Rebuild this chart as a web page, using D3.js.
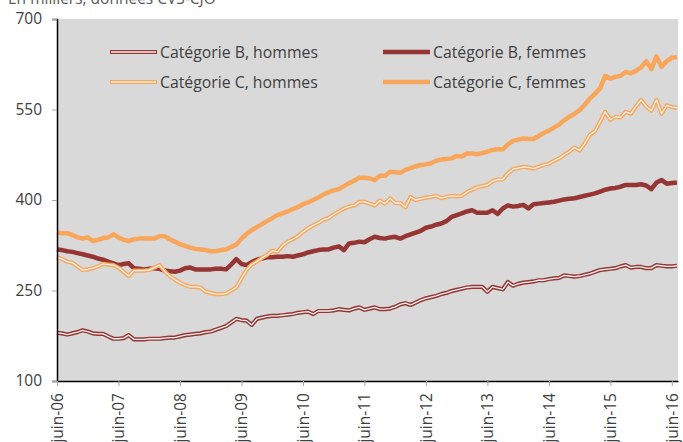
<!DOCTYPE html>
<html>
<head>
<meta charset="utf-8">
<script src="https://cdn.jsdelivr.net/npm/d3@7"></script>
<style>
  body { margin: 0; background: #fff; }
  text { font-family: "Open Sans", sans-serif; fill: #404040; }
</style>
</head>
<body>
<div id="chart"></div>
<script>
var svgWidth = 683;
var svgHeight = 442;

// month index 0 = juin-06, one value per month up to juil-16
var tickLabels = ["juin-06", "juin-07", "juin-08", "juin-09", "juin-10", "juin-11",
  "juin-12", "juin-13", "juin-14", "juin-15", "juin-16"];
var yTicks = [100, 250, 400, 550, 700];

var catBHommes = [180, 179, 177, 179, 181, 184, 182, 179, 178, 178, 174, 170, 170, 171, 176, 169,
  169, 169, 170, 170, 170, 171, 172, 172, 174, 176, 177, 178, 179, 181, 182, 185, 188, 191, 197, 203,
  201, 200, 193, 203, 205, 207, 208, 208, 209, 210, 211, 213, 214, 215, 211, 216, 216, 216, 217, 219,
  218, 217, 220, 222, 218, 220, 222, 219, 219, 220, 223, 227, 229, 226, 230, 234, 237, 239, 241, 244,
  246, 249, 251, 253, 255, 256, 256, 256, 248, 256, 254, 252, 264, 258, 261, 263, 264, 265, 267, 267,
  269, 270, 271, 275, 274, 273, 274, 276, 278, 281, 284, 285, 286, 287, 290, 292, 288, 289, 289, 287,
  287, 292, 291, 290, 290, 291];

var catBFemmes = [318, 317, 315, 314, 312, 310, 308, 306, 303, 301, 298, 295, 292, 294, 295, 287,
  286, 285, 286, 287, 286, 283, 282, 281, 283, 287, 288, 285, 285, 285, 285, 286, 286, 285, 293, 302,
  294, 292, 297, 301, 303, 305, 305, 306, 306, 307, 306, 308, 310, 313, 315, 317, 318, 318, 321, 323,
  317, 328, 329, 331, 330, 335, 339, 337, 336, 338, 339, 336, 340, 343, 346, 349, 354, 356, 359, 361,
  365, 372, 375, 378, 381, 383, 379, 379, 379, 383, 377, 386, 391, 389, 390, 392, 386, 393, 394, 395,
  396, 397, 399, 401, 402, 403, 405, 407, 409, 411, 414, 417, 419, 420, 422, 425, 425, 425, 426, 424,
  418, 429, 433, 427, 428, 429];

var catCHommes = [305, 302, 298, 296, 290, 284, 285, 287, 290, 294, 293, 292, 288, 281, 274, 283,
  283, 283, 284, 288, 292, 282, 274, 268, 263, 259, 256, 256, 255, 248, 246, 244, 244, 245, 250, 255,
  270, 284, 293, 298, 304, 309, 316, 314, 324, 331, 335, 340, 347, 353, 358, 362, 367, 370, 376, 381,
  386, 389, 391, 397, 397, 394, 391, 399, 394, 403, 395, 395, 388, 405, 400, 402, 404, 405, 407, 403,
  405, 407, 406, 407, 413, 417, 421, 423, 425, 431, 434, 434, 444, 451, 453, 455, 454, 452, 455, 458,
  460, 465, 469, 475, 480, 487, 482, 494, 508, 514, 530, 546, 533, 538, 537, 546, 543, 555, 566, 555,
  548, 566, 543, 557, 554, 553];

var catCFemmes = [346, 345, 345, 342, 338, 336, 338, 332, 334, 337, 338, 343, 338, 334, 332, 335,
  336, 336, 336, 336, 340, 340, 335, 331, 327, 324, 321, 319, 318, 317, 315, 315, 317, 318, 322, 326,
  336, 344, 350, 355, 360, 365, 370, 375, 378, 381, 385, 388, 393, 396, 400, 404, 409, 413, 416, 418,
  423, 428, 432, 437, 437, 436, 433, 440, 440, 447, 446, 445, 450, 453, 456, 458, 459, 461, 465, 467,
  468, 469, 473, 472, 477, 477, 476, 478, 480, 483, 484, 484, 492, 498, 500, 502, 501, 501, 506, 511,
  515, 520, 525, 532, 538, 543, 549, 558, 568, 576, 585, 606, 601, 604, 606, 612, 610, 614, 620, 630,
  617, 638, 621, 630, 636, 637];

var seriesNames = ["Catégorie B, hommes", "Catégorie B, femmes", "Catégorie C, hommes", "Catégorie C, femmes"];

var darkRed = "#963634";
var orange = "#f9a65a";

var series = [
  { name: seriesNames[0], values: catBHommes, color: darkRed, double: true },
  { name: seriesNames[1], values: catBFemmes, color: darkRed, double: false },
  { name: seriesNames[2], values: catCHommes, color: orange, double: true },
  { name: seriesNames[3], values: catCFemmes, color: orange, double: false }
];

var svg = d3.select("#chart")
  .append("svg")
  .attr("width", svgWidth)
  .attr("height", svgHeight);

var plot = { left: 57, right: 678, top: 19, bottom: 381 };

var xScale = d3.scaleLinear()
  .domain([0, 121.2])
  .range([plot.left, plot.right]);

var yScale = d3.scaleLinear()
  .domain([100, 700])
  .range([plot.bottom, plot.top]);

// plot background
svg.append("rect")
  .attr("x", plot.left)
  .attr("y", plot.top)
  .attr("width", plot.right - plot.left)
  .attr("height", plot.bottom - plot.top)
  .attr("fill", "#d9d9d9");

// title (cut at the top edge, as in the source)
svg.append("text")
  .attr("x", 8)
  .attr("y", 3.5)
  .style("font-size", "15.5px")
  .style("fill", "#595959")
  .text("En milliers, données CVS-CJO");

var line = d3.line()
  .x((d, i) => xScale(i))
  .y(d => yScale(d));

series.forEach(function(s) {
  if (s.double) {
    svg.append("path")
      .attr("d", line(s.values))
      .attr("fill", "none")
      .attr("stroke", s.color)
      .attr("stroke-width", 4.2)
      .attr("stroke-linejoin", "round");
    svg.append("path")
      .attr("d", line(s.values))
      .attr("fill", "none")
      .attr("stroke", "#f4f1ef")
      .attr("stroke-width", 1.3)
      .attr("stroke-linejoin", "round");
  } else {
    svg.append("path")
      .attr("d", line(s.values))
      .attr("fill", "none")
      .attr("stroke", s.color)
      .attr("stroke-width", 4.5)
      .attr("stroke-linejoin", "round");
  }
});

// axes
var yAxis = d3.axisLeft(yScale)
  .tickValues(yTicks)
  .tickSize(5)
  .tickPadding(10);

var yG = svg.append("g")
  .attr("transform", `translate(${plot.left}, 0)`)
  .call(yAxis);
yG.select(".domain").attr("stroke", "#000").attr("stroke-width", 1.5);
yG.selectAll(".tick line").attr("stroke", "#a6a6a6");
yG.selectAll(".tick text")
  .style("font-size", "15.5px")
  .style("font-family", "Open Sans")
  .attr("fill", "#404040");

var xAxis = d3.axisBottom(xScale)
  .tickValues(d3.range(0, 121, 12))
  .tickFormat((d, i) => tickLabels[i])
  .tickSize(5)
  .tickSizeOuter(0);

var xG = svg.append("g")
  .attr("transform", `translate(0, ${plot.bottom})`)
  .call(xAxis);
xG.select(".domain").attr("stroke", "#000").attr("stroke-width", 1.5);
xG.selectAll(".tick line").attr("stroke", "#a6a6a6");
xG.selectAll(".tick text")
  .style("font-size", "15.5px")
  .style("font-family", "Open Sans")
  .attr("fill", "#404040")
  .attr("transform", "rotate(-90)")
  .attr("text-anchor", "end")
  .attr("x", -12)
  .attr("y", 0)
  .attr("dy", "0.35em");

// legend
var legendPos = [[110, 52], [383, 52], [110, 82], [383, 82]];
series.forEach(function(s, i) {
  var lx = legendPos[i][0], ly = legendPos[i][1];
  var g = svg.append("g");
  g.append("line")
    .attr("x1", lx).attr("x2", lx + 47)
    .attr("y1", ly).attr("y2", ly)
    .attr("stroke", s.color)
    .attr("stroke-width", s.double ? 4.2 : 4.5);
  if (s.double) {
    g.append("line")
      .attr("x1", lx + 1).attr("x2", lx + 46)
      .attr("y1", ly).attr("y2", ly)
      .attr("stroke", "#f4f1ef")
      .attr("stroke-width", 1.3);
  }
  g.append("text")
    .attr("x", lx + 50)
    .attr("y", ly)
    .attr("dy", "0.35em")
    .style("font-size", "15.8px")
    .text(s.name);
});
</script>
</body>
</html>
